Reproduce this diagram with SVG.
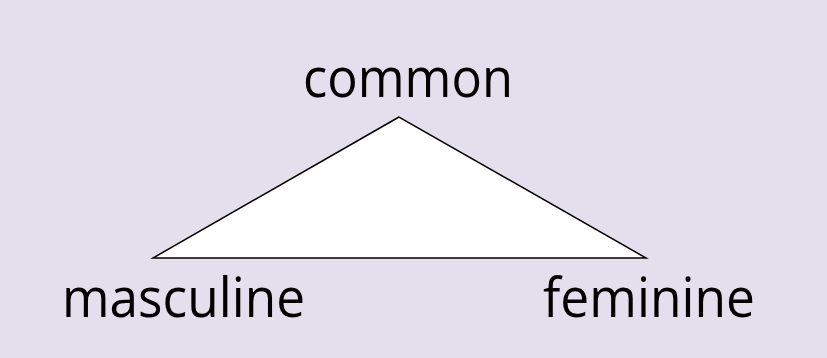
<svg xmlns="http://www.w3.org/2000/svg" width="827" height="358" viewBox="0 0 827 358">
<style>
.lbl{font-family:"Open Sans","Liberation Sans",sans-serif;font-size:54px;fill:#000}
</style>
<rect x="0" y="0" width="827" height="358" fill="#e4dfec"/>
<g id="connectors">
<polygon points="399,117 153,258 646,258" fill="#ffffff" stroke="#000" stroke-width="1.5"/>
</g>
<g id="common"><text class="lbl" x="303" y="97" textLength="210" lengthAdjust="spacingAndGlyphs">common</text></g>
<g id="masculine"><text class="lbl" x="62" y="317" textLength="243" lengthAdjust="spacingAndGlyphs">masculine</text></g>
<g id="feminine"><text class="lbl" x="543" y="317" textLength="212" lengthAdjust="spacingAndGlyphs">feminine</text></g>
</svg>
